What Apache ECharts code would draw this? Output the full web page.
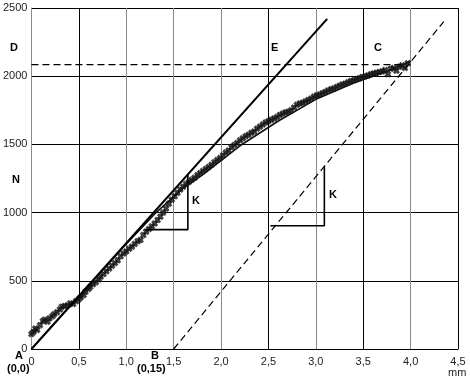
<!DOCTYPE html>
<html>
<head>
<meta charset="utf-8">
<script src="https://cdn.jsdelivr.net/npm/echarts@6/dist/echarts.min.js"></script>
<style>html,body{margin:0;padding:0;background:#fff}#c{width:470px;height:381px}</style>
</head>
<body>
<div id="c"></div>
<script>
// ---- data ----
var xTicks = ['0', '0,5', '1,0', '1,5', '2,0', '2,5', '3,0', '3,5', '4,0', '4,5'];
var yTicks = [0, 500, 1000, 1500, 2000, 2500];
var measX = [0.00,0.02,0.04,0.06,0.09,0.12,0.14,0.17,0.19,0.22,0.24,0.27,0.30,0.32,0.35,0.38,0.41,0.44,0.47,0.50,
  0.52,0.55,0.57,0.60,0.62,0.65,0.68,0.71,0.73,0.76,0.79,0.82,0.85,0.88,0.91,0.94,0.97,1.00,1.03,1.06,
  1.09,1.12,1.15,1.18,1.21,1.24,1.27,1.30,1.33,1.36,1.39,1.42,1.45,1.48,1.51,1.54,1.57,1.60,1.63,1.66,
  1.69,1.72,1.75,1.78,1.81,1.84,1.87,1.90,1.93,1.96,1.99,2.02,2.05,2.08,2.11,2.14,2.17,2.20,2.23,2.26,
  2.29,2.32,2.35,2.38,2.41,2.44,2.47,2.50,2.53,2.56,2.59,2.62,2.65,2.68,2.71,2.74,2.77,2.80,2.83,2.86,
  2.89,2.92,2.95,2.98,3.01,3.04,3.07,3.10,3.13,3.16,3.19,3.22,3.25,3.28,3.31,3.34,3.37,3.40,3.43,3.46,
  3.49,3.52,3.55,3.58,3.61,3.64,3.67,3.70,3.73,3.76,3.79,3.82,3.85,3.88,3.91,3.94,3.97];
var measN = [110,125,150,140,175,205,215,200,225,240,255,270,290,310,315,320,335,330,350,365,
  380,395,420,440,455,475,490,510,530,550,570,590,610,630,650,680,700,715,735,750,
  770,790,800,835,860,880,900,920,945,970,1000,1030,1065,1095,1120,1145,1170,1190,1210,1225,
  1240,1255,1275,1290,1305,1320,1335,1350,1370,1385,1400,1420,1440,1455,1480,1495,1510,1530,1545,1560,
  1570,1585,1595,1615,1630,1645,1660,1670,1680,1690,1700,1715,1725,1735,1740,1750,1770,1790,1800,1805,
  1815,1825,1835,1850,1860,1865,1875,1885,1895,1905,1910,1920,1930,1940,1945,1955,1965,1970,1980,1985,
  1995,2000,2005,2015,2020,2025,2030,2035,2045,2015,2055,2060,2040,2070,2080,2060,2095];
var fitX = [0, 1.0, 1.3, 1.6, 1.8, 2.2, 2.6, 3.0, 3.4, 3.8, 4.0];
var fitN = [0, 770, 990, 1180, 1275, 1490, 1670, 1830, 1950, 2050, 2110];
var lineAE_X = [0, 3.12];
var lineAE_N = [0, 2420];
var lineB_X = [1.5, 4.35];
var lineB_N = [0, 2400];
var lineD_X = [0, 3.95];
var lineD_N = [2085, 2085];
var k1X = [1.2, 1.65, 1.65];
var k1N = [875, 875, 1280];
var k2X = [2.52, 3.09, 3.09];
var k2N = [904, 904, 1338];

function pairs(xs, ys){ return xs.map(function(x,i){ return [x, ys[i]]; }); }

var chart = echarts.init(document.getElementById('c'), null, {renderer:'canvas'});
var FONT = 'Liberation Sans, Arial, sans-serif';
var vColors = ['#8a8a8a','#000','#8a8a8a','#8a8a8a','#8a8a8a','#000','#8a8a8a','#000','#8a8a8a','#000'];
var cross = 'path://M3,0 L5,2 L7,0 L10,3 L8,5 L10,7 L7,10 L5,8 L3,10 L0,7 L2,5 L0,3 Z';

chart.setOption({
  animation: false,
  backgroundColor: '#fff',
  grid: {left: 30, right: 12, top: 8, bottom: 32},
  xAxis: {
    type: 'value', min: 0, max: 4.5, interval: 0.5,
    axisLine: {show: true, lineStyle: {color: '#000', width: 1}},
    axisTick: {show: false},
    axisLabel: {color: '#222', fontFamily: FONT, fontSize: 11, margin: 7,
      formatter: function(v){ return xTicks[Math.round(v/0.5)]; }},
    splitLine: {show: true, lineStyle: {color: vColors, width: 1}}
  },
  yAxis: {
    type: 'value', min: 0, max: 2500, interval: 500,
    axisLine: {show: true, lineStyle: {color: '#8a8a8a', width: 1}},
    axisTick: {show: false},
    axisLabel: {color: '#222', fontFamily: FONT, fontSize: 11, margin: 4,
      formatter: function(v){ return yTicks.indexOf(v) >= 0 ? String(v) : ''; }},
    splitLine: {show: true, lineStyle: {color: '#000', width: 1}}
  },
  series: [
    {type:'line', data: pairs(lineD_X, lineD_N), symbol:'none', lineStyle:{color:'#000', width:1.2, type:[7,4]}},
    {type:'line', data: pairs(lineB_X, lineB_N), symbol:'none', lineStyle:{color:'#000', width:1.2, type:[7,4]}},
    {type:'line', data: pairs(k1X, k1N), symbol:'none', lineStyle:{color:'#000', width:1.6}},
    {type:'line', data: pairs(k2X, k2N), symbol:'none', lineStyle:{color:'#000', width:1.6}},
    {type:'line', data: pairs(fitX, fitN), symbol:'none', lineStyle:{color:'#111', width:1.6}},
    {type:'line', data: pairs(lineAE_X, lineAE_N), symbol:'none', lineStyle:{color:'#000', width:2}},
    {type:'scatter', data: pairs(measX, measN), symbol: cross, symbolSize: 7,
      itemStyle:{color:'#111'}}
  ],
  graphic: [
    {type:'text', left: 10, top: 42, style:{text:'D', font:'bold 11px '+FONT, fill:'#000'}},
    {type:'text', left: 12, top: 174, style:{text:'N', font:'bold 11px '+FONT, fill:'#000'}},
    {type:'text', left: 271, top: 42, style:{text:'E', font:'bold 11px '+FONT, fill:'#000'}},
    {type:'text', left: 374, top: 42, style:{text:'C', font:'bold 11px '+FONT, fill:'#000'}},
    {type:'text', left: 192, top: 195, style:{text:'K', font:'bold 11px '+FONT, fill:'#000'}},
    {type:'text', left: 329, top: 189, style:{text:'K', font:'bold 11px '+FONT, fill:'#000'}},
    {type:'text', left: 15, top: 350, style:{text:'A', font:'bold 11px '+FONT, fill:'#000'}},
    {type:'text', left: 7, top: 363, style:{text:'(0,0)', font:'bold 11px '+FONT, fill:'#000'}},
    {type:'text', left: 151, top: 350, style:{text:'B', font:'bold 11px '+FONT, fill:'#000'}},
    {type:'text', left: 137, top: 363, style:{text:'(0,15)', font:'bold 11px '+FONT, fill:'#000'}},
    {type:'text', left: 448, top: 367, style:{text:'mm', font:'11px '+FONT, fill:'#222'}}
  ]
});
</script>
</body>
</html>
